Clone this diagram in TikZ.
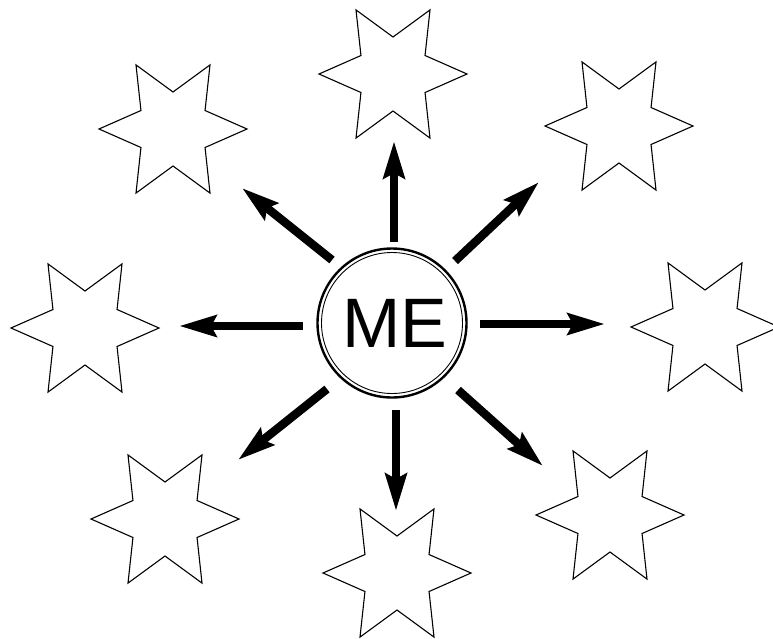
\documentclass[tikz,border=0pt]{standalone}
\usepackage{fontspec}
\setmainfont{Liberation Sans}
\usetikzlibrary{arrows.meta}
\tikzset{
  starline/.style={draw=black,line width=1.1pt,line join=miter},
  sixstar/.pic={
    \draw[starline] (0:74pt) -- (30:37pt) -- (60:74pt) -- (90:37pt) -- (120:74pt) -- (150:37pt)
      -- (180:74pt) -- (210:37pt) -- (240:74pt) -- (270:37pt) -- (300:74pt) -- (330:37pt) -- cycle;
  },
  bigarrow/.style={line width=8.5pt,-{Stealth[length=37pt,width=21pt,inset=5pt]}},
  mecircle/.style={circle,draw=black,line width=2.4pt,minimum size=149pt,inner sep=0pt,
     font=\fontsize{70pt}{70pt}\selectfont},
}
\begin{document}
\begin{tikzpicture}[x=1pt,y=-1pt]
\useasboundingbox (0,0) rectangle (773,638);
% stars
\pic (st) at (393,74) {sixstar};
\pic (stl) at (173,129) {sixstar};
\pic (str) at (619,126) {sixstar};
\pic (sl) at (85,328) {sixstar};
\pic (sr) at (705,327) {sixstar};
\pic (sbl) at (165,519) {sixstar};
\pic (sb) at (397,573) {sixstar};
\pic (sbr) at (610,515) {sixstar};
% centre
\node[mecircle] (me) at (392,323) {};
\draw[line width=0.9pt] (me.center) circle[radius=70.5pt];
\node (metext) at (395,323) {\fontsize{70pt}{70pt}\selectfont ME};
% arrow ends
\coordinate (tU) at (394,242);  \coordinate (hU) at (394,141);
\coordinate (tD) at (396,410);  \coordinate (hD) at (396,511);
\coordinate (tL) at (303,326);  \coordinate (hL) at (179,326);
\coordinate (tR) at (480,324);  \coordinate (hR) at (605,324);
\coordinate (tUL) at (332,260); \coordinate (hUL) at (242,188);
\coordinate (tUR) at (455,261); \coordinate (hUR) at (539,182);
\coordinate (tDL) at (327,389); \coordinate (hDL) at (238,460);
\coordinate (tDR) at (458,390); \coordinate (hDR) at (543,466);
\foreach \n in {U,D,L,R,UL,UR,DL,DR}{
  \draw[bigarrow] (t\n) -- (h\n);
}
\end{tikzpicture}
\end{document}
